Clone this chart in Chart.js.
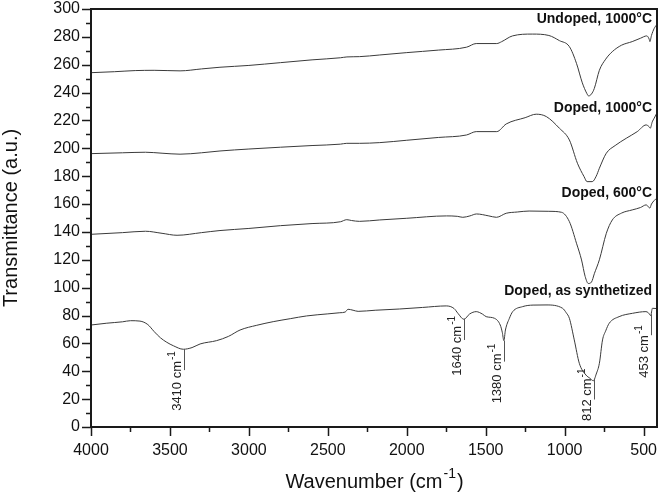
<!DOCTYPE html>
<html>
<head>
<meta charset="utf-8">
<script src="https://cdn.jsdelivr.net/npm/chart.js@4"></script>
<style>
  html, body { margin: 0; padding: 0; background: #fff; }
  #wrap { width: 661px; height: 498px; }
</style>
</head>
<body>
<div id="wrap"><canvas id="ftir" width="661" height="498"></canvas></div>
<script>
// series names (top to bottom)
const seriesNames = ["Undoped, 1000°C", "Doped, 1000°C", "Doped, 600°C", "Doped, as synthetized"];

// Undoped, 1000°C
const undopedX = [4000, 3850, 3720, 3600, 3436, 3300, 3183, 3000, 2800, 2600, 2420, 2379, 2300, 2171, 2000, 1800, 1621, 1560, 1430, 1400, 1330, 1205, 1100, 1033, 970, 925, 888, 860, 848, 830, 812, 780, 740, 698, 640, 572, 520, 480, 465, 460, 450, 433, 415];
const undopedY = [254.3, 255, 255.8, 256, 255.6, 257, 258.2, 259.5, 261.5, 263.5, 265, 265.6, 265.8, 267, 268.7, 270.5, 272.6, 275.2, 275.2, 276.5, 280.7, 282, 281, 277.3, 273, 261, 247, 239.5, 237.6, 239, 243, 256, 264, 269.4, 274, 276.6, 279, 280.7, 278.5, 276.6, 281, 286, 289];

// Doped, 1000°C
const doped1000X = [4000, 3800, 3655, 3550, 3436, 3300, 3183, 3000, 2800, 2600, 2420, 2380, 2300, 2171, 2000, 1800, 1621, 1560, 1430, 1370, 1250, 1180, 1116, 1033, 970, 919, 877, 858, 825, 800, 780, 736, 680, 610, 540, 484, 465, 458, 445, 433, 415];
const doped1000Y = [196.2, 196.8, 197.2, 196.5, 195.8, 196.8, 198.1, 199.5, 200.8, 202, 203, 203.6, 203.6, 204.1, 205.8, 207.8, 209.6, 212, 212, 217.5, 222, 224.5, 222.8, 214.4, 206, 189.3, 179.7, 176.1, 176.1, 180, 185.7, 196.5, 202, 207.2, 212, 216.8, 215.5, 214.4, 219, 221.6, 225.5];

// Doped, 600°C
const doped600X = [4000, 3800, 3655, 3550, 3455, 3300, 3183, 3000, 2800, 2600, 2420, 2380, 2350, 2300, 2171, 2000, 1748, 1680, 1645, 1600, 1558, 1480, 1432, 1370, 1300, 1225, 1100, 1020, 970, 925, 893, 870, 850, 830, 812, 780, 736, 698, 640, 572, 520, 484, 465, 461, 450, 433, 415];
const doped600Y = [138.3, 139.5, 140.5, 139, 137.6, 139.5, 141, 142.5, 144.5, 146, 147.3, 148.8, 148.2, 147.6, 148.6, 149.8, 151.5, 151.2, 150.5, 151.5, 152.9, 151.5, 150.5, 153.4, 154.3, 155, 154.8, 154.1, 147.4, 131.9, 119.9, 108, 103, 104, 110, 120, 139, 148.6, 153.5, 155.8, 157.5, 159.4, 157.5, 157, 160, 162.5, 164.5];

// Doped, as synthetized
const asSynthX = [4000, 3900, 3800, 3750, 3690, 3640, 3600, 3560, 3520, 3478, 3415, 3360, 3309, 3204, 3130, 3056, 2950, 2846, 2735, 2635, 2500, 2424, 2390, 2372, 2340, 2308, 2200, 2045, 1900, 1750, 1700, 1676, 1638, 1602, 1560, 1520, 1497, 1444, 1408, 1395, 1385, 1375, 1350, 1329, 1266, 1200, 1118, 1013, 990, 970, 939, 907, 865, 840, 818, 800, 780, 760, 740, 718, 655, 570, 485, 470, 455, 444, 415];
const asSynthY = [73.2, 74.5, 75.5, 76.3, 76, 73.5, 68.5, 64, 60.8, 58.3, 55.8, 57, 59.6, 62, 65, 69.6, 73, 75.6, 77.8, 79.7, 81.2, 82, 82.5, 84.5, 83.8, 83, 83.8, 84.7, 85.8, 86.9, 85, 81.6, 77.3, 81.1, 82.8, 81, 79.2, 78, 73.2, 68, 62, 69.6, 78, 82.8, 86.4, 87.5, 87.6, 85.2, 82, 78, 62.5, 45.7, 37.3, 35, 33.2, 38, 45.7, 62.5, 69, 74.4, 79.2, 81.6, 82.8, 82, 80, 85.2, 85];

// marked bands on the as-synthetized curve
const peakPositions = [3410, 1640, 1385, 812, 453];
const peakLabels = ["3410", "1640", "1380", "812", "453"];

const xTicks = [4000, 3500, 3000, 2500, 2000, 1500, 1000, 500];

const FONT = "'Liberation Sans', Arial, Helvetica, sans-serif";
const INK = "#111";
const LINE = "#3a3a3a";

function pairs(xs, ys) {
  return xs.map((x, i) => ({ x: x, y: ys[i] }));
}

// value of a series at a wavenumber, read between its two nearest points
function valueAt(xs, ys, wn) {
  for (let i = 0; i < xs.length - 1; i++) {
    if (wn <= xs[i] && wn >= xs[i + 1]) {
      const t = (xs[i] - wn) / (xs[i] - xs[i + 1]);
      return ys[i] + t * (ys[i + 1] - ys[i]);
    }
  }
  return ys[ys.length - 1];
}

// text with a "-1" superscript, drawn left-to-right from x
function drawSup(ctx, x, y, base, size, supSize, rise) {
  ctx.font = size + "px " + FONT;
  ctx.fillText(base, x, y);
  const w = ctx.measureText(base).width;
  ctx.font = supSize + "px " + FONT;
  ctx.fillText("-1", x + w + 1, y - rise);
  return w + 1 + ctx.measureText("-1").width;
}

const decor = {
  id: "decor",
  afterDraw(chart) {
    const ctx = chart.ctx;
    const xs = chart.scales.x, ys = chart.scales.y;
    const a = chart.chartArea;
    ctx.save();

    // frame
    ctx.strokeStyle = "#1a1a1a";
    ctx.lineWidth = 2;
    ctx.strokeRect(a.left, a.top, a.right - a.left, a.bottom - a.top);

    // tick marks, outward
    ctx.lineWidth = 1.5;
    ctx.beginPath();
    for (let v = 500; v <= 4000; v += 250) {
      const px = Math.round(xs.getPixelForValue(v)) + 0.5;
      const len = v % 500 === 0 ? 9 : 5;
      ctx.moveTo(px, a.bottom);
      ctx.lineTo(px, a.bottom + len);
    }
    for (let v = 0; v <= 300; v += 10) {
      const py = Math.round(ys.getPixelForValue(v)) + 0.5;
      const len = v % 20 === 0 ? 9 : 5;
      ctx.moveTo(a.left, py);
      ctx.lineTo(a.left - len, py);
    }
    ctx.stroke();

    // peak markers and labels
    const labelShift = [2, -3, 3, -10, 11];
    ctx.strokeStyle = "#555";
    ctx.lineWidth = 1;
    ctx.fillStyle = "#222";
    peakPositions.forEach((wn, i) => {
      const px = Math.round(xs.getPixelForValue(wn)) + 0.5;
      const py = ys.getPixelForValue(valueAt(asSynthX, asSynthY, wn));
      ctx.beginPath();
      ctx.moveTo(px, py);
      ctx.lineTo(px, py + 21);
      ctx.stroke();

      ctx.save();
      ctx.translate(px - 4, py + labelShift[i]);
      ctx.rotate(-Math.PI / 2);
      ctx.textBaseline = "alphabetic";
      ctx.textAlign = "left";
      ctx.font = "13px " + FONT;
      const base = peakLabels[i] + " cm";
      const w = ctx.measureText(base).width;
      ctx.font = "10px " + FONT;
      const total = w + 1 + ctx.measureText("-1").width;
      drawSup(ctx, -total, 0, base, 13, 10, 6);
      ctx.restore();
    });

    // series names
    const nameY = [293, 229, 168, 97.6];
    ctx.fillStyle = INK;
    ctx.font = "bold 14px " + FONT;
    ctx.textAlign = "right";
    ctx.textBaseline = "middle";
    seriesNames.forEach((n, i) => {
      ctx.fillText(n, a.right - 5, ys.getPixelForValue(nameY[i]));
    });

    // axis titles
    ctx.fillStyle = INK;
    ctx.textAlign = "left";
    ctx.textBaseline = "middle";
    ctx.font = "20px " + FONT;
    const base = "Wavenumber (cm";
    const bw = ctx.measureText(base).width;
    ctx.font = "14px " + FONT;
    const sw = ctx.measureText("-1").width;
    ctx.font = "20px " + FONT;
    const pw = ctx.measureText(")").width;
    let tx = (a.left + a.right) / 2 - (bw + sw + pw + 1) / 2;
    const ty = 482;
    const used = drawSup(ctx, tx, ty, base, 20, 14, 8);
    ctx.font = "20px " + FONT;
    ctx.fillText(")", tx + used + 1, ty);

    ctx.save();
    ctx.translate(11, (a.top + a.bottom) / 2);
    ctx.rotate(-Math.PI / 2);
    ctx.textAlign = "center";
    ctx.font = "20px " + FONT;
    ctx.fillText("Transmittance (a.u.)", 0, 0);
    ctx.restore();

    ctx.restore();
  }
};

document.addEventListener("DOMContentLoaded", function () {
  Chart.defaults.font.family = FONT;
  Chart.defaults.color = INK;

  const ds = (xsArr, ysArr, name) => ({
    label: name,
    data: pairs(xsArr, ysArr),
    borderColor: LINE,
    borderWidth: 1,
    pointRadius: 0,
    fill: false,
    cubicInterpolationMode: "monotone"
  });

  new Chart(document.getElementById("ftir").getContext("2d"), {
    type: "line",
    data: {
      datasets: [
        ds(undopedX, undopedY, seriesNames[0]),
        ds(doped1000X, doped1000Y, seriesNames[1]),
        ds(doped600X, doped600Y, seriesNames[2]),
        ds(asSynthX, asSynthY, seriesNames[3])
      ]
    },
    options: {
      responsive: false,
      animation: false,
      layout: { padding: { left: 0, top: 9, right: 4, bottom: 0 } },
      plugins: { legend: { display: false }, tooltip: { enabled: false } },
      scales: {
        x: {
          type: "linear",
          reverse: true,
          min: 415,
          max: 4000,
          grid: { display: false, drawTicks: false },
          border: { display: false },
          afterBuildTicks: (s) => { s.ticks = xTicks.map(v => ({ value: v })); },
          afterFit: (s) => { s.height = 71; s.paddingLeft = 0; s.paddingRight = 0; },
          ticks: { font: { size: 16 }, color: INK, padding: 14, maxRotation: 0, autoSkip: false,
                   callback: (v) => String(v) }
        },
        y: {
          min: 0,
          max: 300,
          grid: { display: false, drawTicks: false },
          border: { display: false },
          afterFit: (s) => { s.width = 91; s.paddingTop = 0; s.paddingBottom = 0; },
          ticks: { stepSize: 20, font: { size: 16 }, color: INK, padding: 11,
                   callback: (v) => String(v) }
        }
      }
    },
    plugins: [decor]
  });
});
</script>
</body>
</html>
